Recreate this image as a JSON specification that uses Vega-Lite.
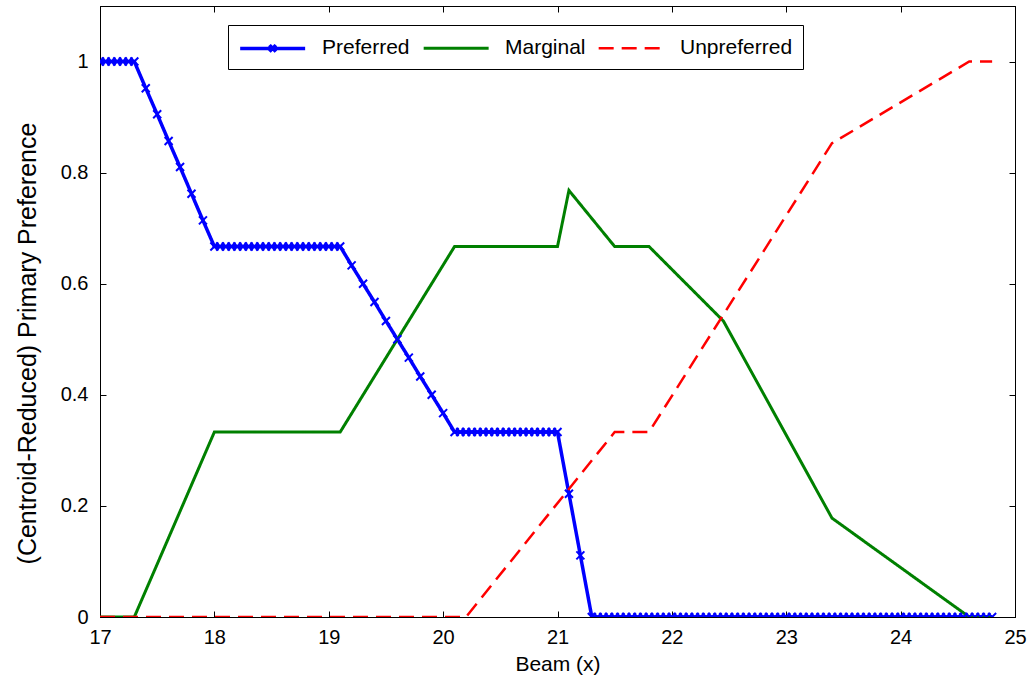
{
  "$schema": "https://vega.github.io/schema/vega-lite/v6.json",
  "width": 915,
  "height": 611,
  "autosize": {"type": "none"},
  "padding": {"left": 100, "top": 6, "right": 21, "bottom": 69},
  "background": "white",
  "config": {
    "font": "Liberation Sans",
    "view": {"stroke": "black", "strokeWidth": 1},
    "axis": {
      "grid": false,
      "domainColor": "black",
      "tickColor": "black",
      "labelColor": "black",
      "titleColor": "black",
      "labelFont": "Liberation Sans",
      "titleFont": "Liberation Sans",
      "labelFontSize": 20,
      "titleFontWeight": "normal",
      "tickSize": -6,
      "tickWidth": 1
    }
  },
  "data": {
    "values": [
      {"x": 17, "v": 1, "s": "Preferred"}, {"x": 17.05, "v": 1, "s": "Preferred"}, {"x": 17.1, "v": 1, "s": "Preferred"}, {"x": 17.15, "v": 1, "s": "Preferred"}, {"x": 17.2, "v": 1, "s": "Preferred"}, {"x": 17.25, "v": 1, "s": "Preferred"}, {"x": 17.3, "v": 1, "s": "Preferred"},
      {"x": 17.4, "v": 0.952, "s": "Preferred"}, {"x": 17.5, "v": 0.905, "s": "Preferred"}, {"x": 17.6, "v": 0.857, "s": "Preferred"}, {"x": 17.7, "v": 0.81, "s": "Preferred"}, {"x": 17.8, "v": 0.762, "s": "Preferred"}, {"x": 17.9, "v": 0.714, "s": "Preferred"},
      {"x": 18, "v": 0.667, "s": "Preferred"}, {"x": 18.05, "v": 0.667, "s": "Preferred"}, {"x": 18.1, "v": 0.667, "s": "Preferred"}, {"x": 18.15, "v": 0.667, "s": "Preferred"}, {"x": 18.2, "v": 0.667, "s": "Preferred"}, {"x": 18.25, "v": 0.667, "s": "Preferred"}, {"x": 18.3, "v": 0.667, "s": "Preferred"}, {"x": 18.35, "v": 0.667, "s": "Preferred"}, {"x": 18.4, "v": 0.667, "s": "Preferred"}, {"x": 18.45, "v": 0.667, "s": "Preferred"}, {"x": 18.5, "v": 0.667, "s": "Preferred"}, {"x": 18.55, "v": 0.667, "s": "Preferred"}, {"x": 18.6, "v": 0.667, "s": "Preferred"}, {"x": 18.65, "v": 0.667, "s": "Preferred"}, {"x": 18.7, "v": 0.667, "s": "Preferred"}, {"x": 18.75, "v": 0.667, "s": "Preferred"}, {"x": 18.8, "v": 0.667, "s": "Preferred"}, {"x": 18.85, "v": 0.667, "s": "Preferred"}, {"x": 18.9, "v": 0.667, "s": "Preferred"}, {"x": 18.95, "v": 0.667, "s": "Preferred"}, {"x": 19, "v": 0.667, "s": "Preferred"}, {"x": 19.05, "v": 0.667, "s": "Preferred"}, {"x": 19.1, "v": 0.667, "s": "Preferred"},
      {"x": 19.2, "v": 0.633, "s": "Preferred"}, {"x": 19.3, "v": 0.6, "s": "Preferred"}, {"x": 19.4, "v": 0.567, "s": "Preferred"}, {"x": 19.5, "v": 0.533, "s": "Preferred"}, {"x": 19.6, "v": 0.5, "s": "Preferred"}, {"x": 19.7, "v": 0.467, "s": "Preferred"}, {"x": 19.8, "v": 0.433, "s": "Preferred"}, {"x": 19.9, "v": 0.4, "s": "Preferred"}, {"x": 20, "v": 0.367, "s": "Preferred"},
      {"x": 20.1, "v": 0.333, "s": "Preferred"}, {"x": 20.15, "v": 0.333, "s": "Preferred"}, {"x": 20.2, "v": 0.333, "s": "Preferred"}, {"x": 20.25, "v": 0.333, "s": "Preferred"}, {"x": 20.3, "v": 0.333, "s": "Preferred"}, {"x": 20.35, "v": 0.333, "s": "Preferred"}, {"x": 20.4, "v": 0.333, "s": "Preferred"}, {"x": 20.45, "v": 0.333, "s": "Preferred"}, {"x": 20.5, "v": 0.333, "s": "Preferred"}, {"x": 20.55, "v": 0.333, "s": "Preferred"}, {"x": 20.6, "v": 0.333, "s": "Preferred"}, {"x": 20.65, "v": 0.333, "s": "Preferred"}, {"x": 20.7, "v": 0.333, "s": "Preferred"}, {"x": 20.75, "v": 0.333, "s": "Preferred"}, {"x": 20.8, "v": 0.333, "s": "Preferred"}, {"x": 20.85, "v": 0.333, "s": "Preferred"}, {"x": 20.9, "v": 0.333, "s": "Preferred"}, {"x": 20.95, "v": 0.333, "s": "Preferred"}, {"x": 21, "v": 0.333, "s": "Preferred"},
      {"x": 21.1, "v": 0.222, "s": "Preferred"}, {"x": 21.2, "v": 0.111, "s": "Preferred"},
      {"x": 21.3, "v": 0, "s": "Preferred"}, {"x": 21.35, "v": 0, "s": "Preferred"}, {"x": 21.4, "v": 0, "s": "Preferred"}, {"x": 21.45, "v": 0, "s": "Preferred"}, {"x": 21.5, "v": 0, "s": "Preferred"}, {"x": 21.55, "v": 0, "s": "Preferred"}, {"x": 21.6, "v": 0, "s": "Preferred"}, {"x": 21.65, "v": 0, "s": "Preferred"}, {"x": 21.7, "v": 0, "s": "Preferred"}, {"x": 21.75, "v": 0, "s": "Preferred"}, {"x": 21.8, "v": 0, "s": "Preferred"}, {"x": 21.85, "v": 0, "s": "Preferred"}, {"x": 21.9, "v": 0, "s": "Preferred"}, {"x": 21.95, "v": 0, "s": "Preferred"}, {"x": 22, "v": 0, "s": "Preferred"}, {"x": 22.05, "v": 0, "s": "Preferred"}, {"x": 22.1, "v": 0, "s": "Preferred"}, {"x": 22.15, "v": 0, "s": "Preferred"}, {"x": 22.2, "v": 0, "s": "Preferred"}, {"x": 22.25, "v": 0, "s": "Preferred"}, {"x": 22.3, "v": 0, "s": "Preferred"}, {"x": 22.35, "v": 0, "s": "Preferred"}, {"x": 22.4, "v": 0, "s": "Preferred"}, {"x": 22.45, "v": 0, "s": "Preferred"}, {"x": 22.5, "v": 0, "s": "Preferred"}, {"x": 22.55, "v": 0, "s": "Preferred"}, {"x": 22.6, "v": 0, "s": "Preferred"}, {"x": 22.65, "v": 0, "s": "Preferred"}, {"x": 22.7, "v": 0, "s": "Preferred"}, {"x": 22.75, "v": 0, "s": "Preferred"}, {"x": 22.8, "v": 0, "s": "Preferred"}, {"x": 22.85, "v": 0, "s": "Preferred"}, {"x": 22.9, "v": 0, "s": "Preferred"}, {"x": 22.95, "v": 0, "s": "Preferred"}, {"x": 23, "v": 0, "s": "Preferred"}, {"x": 23.05, "v": 0, "s": "Preferred"}, {"x": 23.1, "v": 0, "s": "Preferred"}, {"x": 23.15, "v": 0, "s": "Preferred"}, {"x": 23.2, "v": 0, "s": "Preferred"}, {"x": 23.25, "v": 0, "s": "Preferred"}, {"x": 23.3, "v": 0, "s": "Preferred"}, {"x": 23.35, "v": 0, "s": "Preferred"}, {"x": 23.4, "v": 0, "s": "Preferred"}, {"x": 23.45, "v": 0, "s": "Preferred"}, {"x": 23.5, "v": 0, "s": "Preferred"}, {"x": 23.55, "v": 0, "s": "Preferred"}, {"x": 23.6, "v": 0, "s": "Preferred"}, {"x": 23.65, "v": 0, "s": "Preferred"}, {"x": 23.7, "v": 0, "s": "Preferred"}, {"x": 23.75, "v": 0, "s": "Preferred"}, {"x": 23.8, "v": 0, "s": "Preferred"}, {"x": 23.85, "v": 0, "s": "Preferred"}, {"x": 23.9, "v": 0, "s": "Preferred"}, {"x": 23.95, "v": 0, "s": "Preferred"}, {"x": 24, "v": 0, "s": "Preferred"}, {"x": 24.05, "v": 0, "s": "Preferred"}, {"x": 24.1, "v": 0, "s": "Preferred"}, {"x": 24.15, "v": 0, "s": "Preferred"}, {"x": 24.2, "v": 0, "s": "Preferred"}, {"x": 24.25, "v": 0, "s": "Preferred"}, {"x": 24.3, "v": 0, "s": "Preferred"}, {"x": 24.35, "v": 0, "s": "Preferred"}, {"x": 24.4, "v": 0, "s": "Preferred"}, {"x": 24.45, "v": 0, "s": "Preferred"}, {"x": 24.5, "v": 0, "s": "Preferred"}, {"x": 24.55, "v": 0, "s": "Preferred"}, {"x": 24.6, "v": 0, "s": "Preferred"}, {"x": 24.65, "v": 0, "s": "Preferred"}, {"x": 24.7, "v": 0, "s": "Preferred"}, {"x": 24.75, "v": 0, "s": "Preferred"}, {"x": 24.8, "v": 0, "s": "Preferred"},
      {"x": 17, "v": 0, "s": "Marginal"}, {"x": 17.3, "v": 0, "s": "Marginal"}, {"x": 18, "v": 0.333, "s": "Marginal"}, {"x": 19.1, "v": 0.333, "s": "Marginal"}, {"x": 20.1, "v": 0.667, "s": "Marginal"}, {"x": 21, "v": 0.667, "s": "Marginal"}, {"x": 21.1, "v": 0.768, "s": "Marginal"}, {"x": 21.5, "v": 0.667, "s": "Marginal"}, {"x": 21.8, "v": 0.667, "s": "Marginal"}, {"x": 22.45, "v": 0.533, "s": "Marginal"}, {"x": 23.4, "v": 0.178, "s": "Marginal"}, {"x": 24.6, "v": 0, "s": "Marginal"}, {"x": 24.8, "v": 0, "s": "Marginal"},
      {"x": 17, "v": 0, "s": "Unpreferred"}, {"x": 20.2, "v": 0, "s": "Unpreferred"}, {"x": 21.5, "v": 0.333, "s": "Unpreferred"}, {"x": 21.8, "v": 0.333, "s": "Unpreferred"}, {"x": 23.4, "v": 0.853, "s": "Unpreferred"}, {"x": 24.6, "v": 1, "s": "Unpreferred"}, {"x": 24.8, "v": 1, "s": "Unpreferred"}
    ]
  },
  "layer": [
    {
      "mark": {"type": "line", "clip": true},
      "encoding": {
        "x": {
          "field": "x", "type": "quantitative",
          "scale": {"domain": [17, 25], "nice": false, "zero": false},
          "axis": {"values": [17, 18, 19, 20, 21, 22, 23, 24, 25], "title": "Beam (x)", "titleFontSize": 21, "labelPadding": 16, "titleBaseline": "middle", "titleY": 47, "labelFlush": false}
        },
        "y": {
          "field": "v", "type": "quantitative",
          "scale": {"domain": [0, 1.1], "nice": false},
          "axis": {"values": [0, 0.2, 0.4, 0.6, 0.8, 1], "format": "~g", "title": "(Centroid-Reduced) Primary Preference", "titleFontSize": 25, "labelPadding": 18, "titleBaseline": "middle", "titleX": -73, "titleY": 337, "labelFlush": false}
        },
        "color": {
          "field": "s", "type": "nominal",
          "scale": {"domain": ["Preferred", "Marginal", "Unpreferred"], "range": ["#0000ff", "#008000", "#ff0000"]},
          "legend": {
            "orient": "none", "legendX": 128, "legendY": 19, "direction": "horizontal", "title": null,
            "symbolType": "M-1,0L5,0", "symbolSize": 469, "symbolStrokeWidth": 3,
            "labelFontSize": 21, "labelFont": "Liberation Sans", "labelColor": "black", "labelOffset": 58,
            "columnPadding": 7, "padding": 10, "strokeColor": "black", "fillColor": "white", "cornerRadius": 0,
            "encode": {
              "symbols": {
                "update": {
                  "shape": {"signal": "datum.value === 'Preferred' ? 'M-1,0L5,0M1.7,-0.3L2.3,0.3M2.3,-0.3L1.7,0.3' : 'M-1,0L5,0'"}
                }
              }
            }
          }
        },
        "strokeDash": {
          "field": "s", "type": "nominal",
          "scale": {"domain": ["Preferred", "Marginal", "Unpreferred"], "range": [[1, 0], [1, 0], [15, 8]]}
        },
        "strokeWidth": {
          "field": "s", "type": "nominal",
          "scale": {"domain": ["Preferred", "Marginal", "Unpreferred"], "range": [3.5, 2.5, 2.5]},
          "legend": null
        }
      }
    },
    {
      "transform": [{"filter": "datum.s === 'Preferred'"}],
      "mark": {"type": "point", "shape": "M-1,-1L1,1M1,-1L-1,1", "size": 64, "filled": false, "strokeWidth": 2, "color": "#0000ff", "opacity": 1, "clip": true},
      "encoding": {
        "x": {"field": "x", "type": "quantitative", "axis": null},
        "y": {"field": "v", "type": "quantitative", "axis": null}
      }
    },
    {
      "mark": {"type": "line", "opacity": 0},
      "encoding": {
        "x": {"field": "x", "type": "quantitative", "axis": {"orient": "top", "values": [17, 18, 19, 20, 21, 22, 23, 24, 25], "labels": false, "title": null}},
        "y": {"field": "v", "type": "quantitative", "axis": {"orient": "right", "values": [0, 0.2, 0.4, 0.6, 0.8, 1], "labels": false, "title": null}},
        "detail": {"field": "s", "type": "nominal"}
      }
    }
  ],
  "resolve": {"axis": {"x": "independent", "y": "independent"}}
}
